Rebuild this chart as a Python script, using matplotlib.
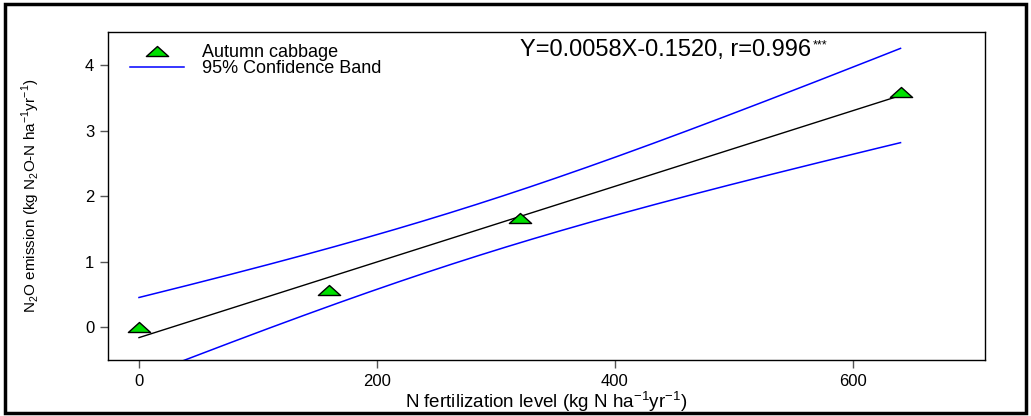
import numpy as np
import matplotlib
matplotlib.use("Agg")
import matplotlib.pyplot as plt
from matplotlib.patches import Rectangle
from matplotlib.path import Path

plt.rcParams['font.family'] = ['Liberation Sans', 'DejaVu Sans']
plt.rcParams['mathtext.fontset'] = 'custom'
plt.rcParams['mathtext.rm'] = 'Liberation Sans'

# data
n_rate = np.array([0, 160, 320, 640])          # kg N ha-1 yr-1
n2o = np.array([0.0, 0.57, 1.67, 3.60])        # kg N2O-N ha-1 yr-1
x_ticks = [0, 200, 400, 600]
y_ticks = [0, 1, 2, 3, 4]
eq_text = "Y=0.0058X-0.1520, r=0.996"
sig_text = "***"
t_crit = 4.303  # t(0.975, df=2)

# linear fit and 95% confidence band of the mean
slope, intercept = np.polyfit(n_rate, n2o, 1)
xs = np.linspace(n_rate.min(), n_rate.max(), 200)
fit = slope * xs + intercept
resid = n2o - (slope * n_rate + intercept)
s = np.sqrt(np.sum(resid ** 2) / (len(n_rate) - 2))
sxx = np.sum((n_rate - n_rate.mean()) ** 2)
se = s * np.sqrt(1 / len(n_rate) + (xs - n_rate.mean()) ** 2 / sxx)
upper = fit + t_crit * se
lower = fit - t_crit * se

# flat triangle marker like the original
flat_tri = Path([(-1, -0.45), (1, -0.45), (0, 0.45), (-1, -0.45)],
                [Path.MOVETO, Path.LINETO, Path.LINETO, Path.CLOSEPOLY])

fig = plt.figure(figsize=(10.31, 4.16), dpi=100)
ax = fig.add_axes([0.1048, 0.1346, 0.8506, 0.7884])

ax.plot(xs, fit, color='black', lw=1)
ax.plot(xs, upper, color='#0000ff', lw=1.1, label='95% Confidence Band')
ax.plot(xs, lower, color='#0000ff', lw=1.1)
ax.plot(n_rate, n2o, linestyle='none', marker=flat_tri, markersize=16,
        markerfacecolor='#00e000', markeredgecolor='black', markeredgewidth=1,
        label='Autumn cabbage', zorder=5)

ax.set_xlim(-26, 711)
ax.set_ylim(-0.5, 4.51)
ax.set_xticks(x_ticks)
ax.set_yticks(y_ticks)
ax.tick_params(axis='both', direction='out', length=6, width=1, labelsize=12,
               color='#555555', pad=4)
for sp in ax.spines.values():
    sp.set_linewidth(1)

handles, labels = ax.get_legend_handles_labels()
ax.legend(handles[::-1], labels[::-1], loc='upper left', frameon=False,
          fontsize=13, handlelength=3.0, handletextpad=1.0,
          borderaxespad=0.1, labelspacing=-0.05, bbox_to_anchor=(0.015, 0.99))

eq = ax.text(0.47, 0.945, eq_text, transform=ax.transAxes, fontsize=17,
             ha='left', va='center')
ax.annotate(sig_text, xy=(1.0, 1.0), xycoords=eq, xytext=(1, 0),
            textcoords='offset points', fontsize=9, ha='left', va='top')

ax.set_xlabel("N fertilization level (kg N ha$^{-1}$yr$^{-1}$)", fontsize=13.5,
              va='top')
ax.xaxis.set_label_coords(0.5, -0.09)
fig.text(0.03, 0.53, "N$_2$O emission (kg N$_2$O-N ha$^{-1}$yr$^{-1}$)",
         rotation=90, ha='center', va='center', fontsize=11)

# outer frame
fig.patches.append(Rectangle((0.005, 0.008), 0.99, 0.982, transform=fig.transFigure,
                             fill=False, edgecolor='black', linewidth=2.5))

fig.savefig("out.png", dpi=100)
